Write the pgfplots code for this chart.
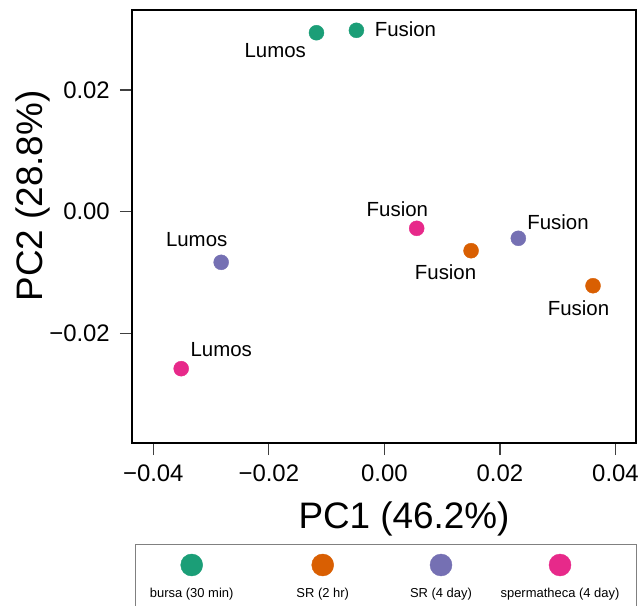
\documentclass[border=0pt]{standalone}
\usepackage{fontspec}
\setmainfont{Liberation Sans}
\usepackage{pgfplots}
\pgfplotsset{compat=1.18}

\definecolor{cbursa}{HTML}{1B9E77}
\definecolor{csrtwo}{HTML}{D95F02}
\definecolor{csrfour}{HTML}{7570B3}
\definecolor{cspt}{HTML}{E7298A}

% point + text label, label offset (bp) taken from the dx/dy columns
\pgfplotsset{
  ptlab/.style={
    only marks, mark=*, mark size=#1,
    point meta=explicit symbolic,
    visualization depends on={value \thisrow{dx}\as\dx},
    visualization depends on={value \thisrow{dy}\as\dy},
    nodes near coords,
    nodes near coords style={anchor=base, xshift=\dx bp, yshift=\dy bp,
      inner sep=0pt, text=black},
  },
}

\begin{document}
\begin{tikzpicture}
\useasboundingbox (-132bp,-163bp) rectangle (510bp,443bp);

\begin{axis}[
  at={(0,0)}, anchor=south west,
  scale only axis,
  width=504bp, height=433bp,
  xmin=-0.043685, xmax=0.043547,
  ymin=-0.03804, ymax=0.03316,
  scaled x ticks=false, scaled y ticks=false,
  axis line style={line width=1.6bp},
  xtick={-0.04,-0.02,0,0.02,0.04},
  xticklabels={−0.04,−0.02,0.00,0.02,0.04},
  ytick={-0.02,0,0.02},
  yticklabels={−0.02,0.00,0.02},
  tick align=outside,
  major tick length=12bp,
  tick style={line width=1.2bp, color=black!75},
  xtick pos=bottom, ytick pos=left,
  ticklabel style={font=\fontsize{24}{28}\selectfont, inner sep=0pt},
  xticklabel style={anchor=north, yshift=-10bp},
  yticklabel style={anchor=east, xshift=-10bp},
  xlabel={PC1 (46.2\%)},
  ylabel={PC2 (28.8\%)},
  label style={font=\fontsize{37}{42}\selectfont, inner sep=0pt},
  xlabel style={at={(axis description cs:0.5397,-0.1986)}, anchor=base},
  ylabel style={at={(axis description cs:-0.1766,0.5704)}, anchor=base},
  nodes near coords style={font=\fontsize{20.5}{24}\selectfont},
  clip=false,
]
% bursa (30 min)
\addplot[ptlab=7.5bp, color=cbursa] table[meta=lab] {
x        y        lab    dx     dy
-0.01176 0.02942  Lumos  -41.2  -24.6
-0.00484 0.02982  Fusion  49.0  -6.4
};
% SR (2 hr)
\addplot[ptlab=7.5bp, color=csrtwo] table[meta=lab] {
x        y        lab    dx     dy
0.01500  -0.00642 Fusion -25.5  -28.6
0.03611  -0.01218 Fusion -14.5  -29.3
};
% SR (4 day)
\addplot[ptlab=7.5bp, color=csrfour] table[meta=lab] {
x        y        lab    dx     dy
0.02318  -0.00438 Fusion  39.7   9.0
-0.02825 -0.00833 Lumos  -24.5  15.6
};
% spermatheca (4 day)
\addplot[ptlab=7.5bp, color=cspt] table[meta=lab] {
x        y        lab    dx     dy
0.00559  -0.00274 Fusion -19.3  12.3
-0.03517 -0.02582 Lumos   40.0  12.0
};
\end{axis}

% legend box, drawn as a second axis in pixel units
\begin{axis}[
  at={(3.7bp,-101bp)}, anchor=north west,
  scale only axis,
  width=501bp, height=80bp,
  xmin=135.7, xmax=636.7,
  ymin=-624, ymax=-544,
  xtick=\empty, ytick=\empty,
  axis line style={line width=1bp, color=black!50},
  nodes near coords style={font=\fontsize{13}{15}\selectfont},
  clip=false,
]
\addplot[ptlab=11bp, color=cbursa] table[meta=lab] {
x     y    lab                  dx  dy
191.7 -565 {bursa (30 min)}     0   -32.7
};
\addplot[ptlab=11bp, color=csrtwo] table[meta=lab] {
x     y    lab                  dx  dy
322.7 -565 {SR (2 hr)}          0   -32.7
};
\addplot[ptlab=11bp, color=csrfour] table[meta=lab] {
x     y    lab                  dx  dy
441.0 -565 {SR (4 day)}         0   -32.7
};
\addplot[ptlab=11bp, color=cspt] table[meta=lab] {
x     y    lab                  dx  dy
560.0 -565 {spermatheca (4 day)} 0  -32.7
};
\end{axis}
\end{tikzpicture}
\end{document}
